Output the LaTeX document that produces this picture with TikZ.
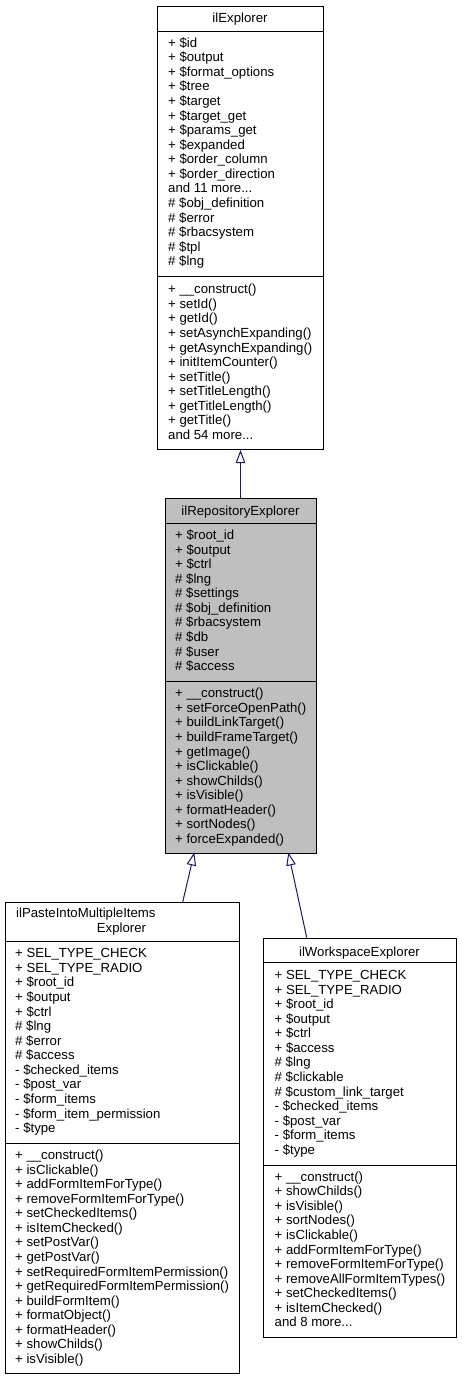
\documentclass[tikz,border=0pt]{standalone}
\usepackage{fontspec}
\setmainfont{Liberation Sans}
\usetikzlibrary{arrows.meta}
\definecolor{edgeblue}{RGB}{25,25,112}
\definecolor{repgray}{RGB}{191,191,191}
\newcommand\mdots{...}
\newcommand\memlines[4]{\foreach \t [count=\i] in {#4} {\node[mem] (#1-\i) at (#2,{#3+(\i-1)*14.57}) {\t};}}
\begin{document}
\begin{tikzpicture}[x=1pt,y=-1pt,
  font=\fontsize{13.2}{15}\selectfont,
  cls/.style={draw=black,line width=1pt,fill=white,inner sep=0pt,anchor=north west},
  sepline/.style={draw=black,line width=1pt},
  mem/.style={anchor=base west,inner sep=0pt},
  ttl/.style={anchor=base,inner sep=0pt},
  edge/.style={draw=edgeblue,line width=1pt,-{Triangle[open,length=13pt,width=9.5pt]}}]
\useasboundingbox (0,0) rectangle (461,1380);

% ilExplorer
\node[cls,minimum width=166pt,minimum height=443pt] (exp) at (157,6) {};
\draw[sepline] (157,32) -- (323,32);
\draw[sepline] (157,276) -- (323,276);
\node[ttl] (exp-t) at (240,22.5) {ilExplorer};
\memlines{expa}{168}{47.2}{+ \$id, + \$output, + \$format\_options, + \$tree, + \$target, + \$target\_get, + \$params\_get, + \$expanded, + \$order\_column, + \$order\_direction, and 11 more\mdots, \# \$obj\_definition, \# \$error, \# \$rbacsystem, \# \$tpl, \# \$lng}
\memlines{expm}{168}{293.8}{+ \_\_construct(), + setId(), + getId(), + setAsynchExpanding(), + getAsynchExpanding(), + initItemCounter(), + setTitle(), + setTitleLength(), + getTitleLength(), + getTitle(), and 54 more\mdots}

% ilRepositoryExplorer
\node[cls,fill=repgray,minimum width=151pt,minimum height=354.5pt] (rep) at (165,498) {};
\draw[sepline] (165,523.3) -- (316,523.3);
\draw[sepline] (165,681) -- (316,681);
\node[ttl] (rep-t) at (240.5,515) {ilRepositoryExplorer};
\memlines{repa}{175}{539.5}{+ \$root\_id, + \$output, + \$ctrl, \# \$lng, \# \$settings, \# \$obj\_definition, \# \$rbacsystem, \# \$db, \# \$user, \# \$access}
\memlines{repm}{175}{697.8}{+ \_\_construct(), + setForceOpenPath(), + buildLinkTarget(), + buildFrameTarget(), + getImage(), + isClickable(), + showChilds(), + isVisible(), + formatHeader(), + sortNodes(), + forceExpanded()}

% ilPasteIntoMultipleItemsExplorer
\node[cls,minimum width=233.5pt,minimum height=471pt] (paste) at (5,902) {};
\draw[sepline] (5,941.7) -- (238.5,941.7);
\draw[sepline] (5,1143.3) -- (238.5,1143.3);
\node[mem] (paste-t1) at (16,917.8) {ilPasteIntoMultipleItems};
\node[ttl] (paste-t2) at (121.5,932.8) {Explorer};
\memlines{pastea}{15}{957.8}{+ SEL\_TYPE\_CHECK, + SEL\_TYPE\_RADIO, + \$root\_id, + \$output, + \$ctrl, \# \$lng, \# \$error, \# \$access, - \$checked\_items, - \$post\_var, - \$form\_items, - \$form\_item\_permission, - \$type}
\memlines{pastem}{15}{1159.5}{+ \_\_construct(), + isClickable(), + addFormItemForType(), + removeFormItemForType(), + setCheckedItems(), + isItemChecked(), + setPostVar(), + getPostVar(), + setRequiredFormItemPermission(), + getRequiredFormItemPermission(), + buildFormItem(), + formatObject(), + formatHeader(), + showChilds(), + isVisible()}

% ilWorkspaceExplorer
\node[cls,minimum width=193pt,minimum height=399pt] (ws) at (263,937.5) {};
\draw[sepline] (263,962.7) -- (456,962.7);
\draw[sepline] (263,1165) -- (456,1165);
\node[ttl] (ws-t) at (359.5,956.2) {ilWorkspaceExplorer};
\memlines{wsa}{274.5}{979.5}{+ SEL\_TYPE\_CHECK, + SEL\_TYPE\_RADIO, + \$root\_id, + \$output, + \$ctrl, + \$access, \# \$lng, \# \$clickable, \# \$custom\_link\_target, - \$checked\_items, - \$post\_var, - \$form\_items, - \$type}
\memlines{wsm}{274.5}{1181.2}{+ \_\_construct(), + showChilds(), + isVisible(), + sortNodes(), + isClickable(), + addFormItemForType(), + removeFormItemForType(), + removeAllFormItemTypes(), + setCheckedItems(), + isItemChecked(), and 8 more\mdots}

% inheritance edges
\draw[edge] (rep.north -| exp.south) -- (exp.south);
\coordinate (pasteEnd) at (182.7,902);
\coordinate (repEndL) at (194.3,852.5);
\coordinate (wsEnd) at (306.7,937.5);
\coordinate (repEndR) at (288.3,852.5);
\draw[edge] (pasteEnd) -- (repEndL);
\draw[edge] (wsEnd) -- (repEndR);
\end{tikzpicture}
\end{document}
